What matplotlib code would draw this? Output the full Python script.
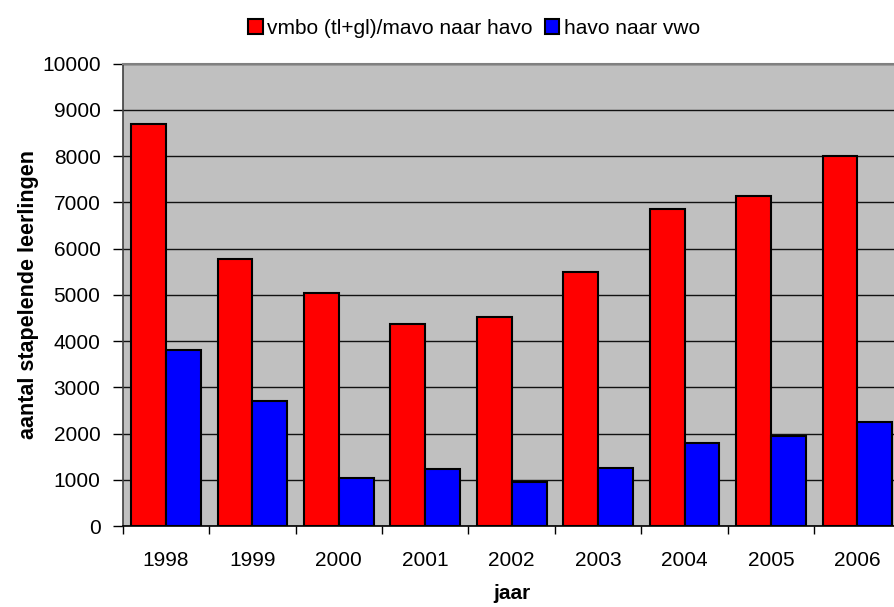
import matplotlib.pyplot as plt
import numpy as np

years = ["1998", "1999", "2000", "2001", "2002", "2003", "2004", "2005", "2006"]
vmbo_havo = [8700, 5780, 5030, 4360, 4530, 5490, 6860, 7130, 8000]
havo_vwo = [3800, 2710, 1030, 1230, 960, 1250, 1790, 1950, 2240]
series_labels = ["vmbo (tl+gl)/mavo naar havo", "havo naar vwo"]

plt.rcParams["font.family"] = ["Liberation Sans", "DejaVu Sans"]

fig = plt.figure(figsize=(8.94, 6.07), dpi=100)
ax = fig.add_axes([0.1373, 0.1334, 0.8701, 0.7616])
ax.set_facecolor("#c0c0c0")

x = np.arange(len(years))
w = 0.403
ax.bar(x - w / 2, vmbo_havo, w, color="#ff0000", edgecolor="black", linewidth=1.5,
       label=series_labels[0], zorder=3)
ax.bar(x + w / 2, havo_vwo, w, color="#0000ff", edgecolor="black", linewidth=1.5,
       label=series_labels[1], zorder=3)

ax.set_xlim(-0.5, len(years) - 0.5)
ax.set_ylim(0, 10000)
ax.set_yticks(np.arange(0, 10001, 1000))
ax.yaxis.grid(True, color="#111111", linewidth=1.0, zorder=1)
ax.set_axisbelow(True)

# category boundaries get the tick marks, centres get the labels
ax.set_xticks(np.arange(-0.5, len(years), 1.0))
ax.set_xticklabels([])
ax.set_xticks(x, minor=True)
ax.set_xticklabels(years, minor=True)
ax.tick_params(axis="x", which="major", length=6, width=1, color="black", direction="out")
ax.tick_params(axis="x", which="minor", length=0, pad=18, labelsize=15)
ax.tick_params(axis="y", length=7, width=1, color="black", direction="out", pad=9, labelsize=15)

ax.spines["left"].set_color("#404040")
ax.spines["left"].set_linewidth(1.2)
ax.spines["bottom"].set_color("black")
ax.spines["bottom"].set_linewidth(1.2)
ax.spines["top"].set_color("#808080")
ax.spines["top"].set_linewidth(1.5)
ax.spines["right"].set_color("#808080")

ax.set_xlabel("jaar", fontsize=15, fontweight="bold", labelpad=10)
ax.set_ylabel("aantal stapelende leerlingen", fontsize=15.5, fontweight="bold", labelpad=2)

leg = fig.legend(loc="center", bbox_to_anchor=(0.53, 0.953), ncol=2, frameon=False,
                 fontsize=15, handlelength=0.7, handleheight=0.7, handletextpad=0.2,
                 columnspacing=0.6, borderaxespad=0)

fig.savefig("out.png", dpi=100, facecolor="white")
